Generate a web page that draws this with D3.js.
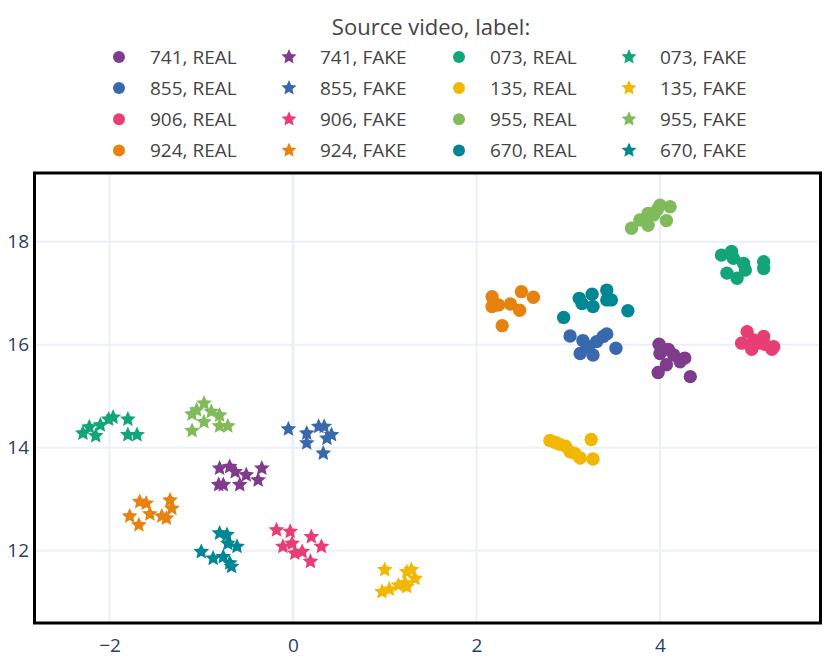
<!DOCTYPE html>
<html lang="en">
<head>
    <meta charset="UTF-8">
    <script src="https://d3js.org/d3.v7.min.js"></script>
    <title>Source video embedding</title>
    <style>
    body { margin: 0; background: #fff; }
    text { font-family: "Open Sans", sans-serif; }
    </style>
</head>
<body>
    <svg id="plot" width="830" height="661"></svg>
    <script>
        // Trace order (also legend order, filled row by row)
        const videos = ['741', '073', '855', '135', '906', '955', '924', '670'];
        const colors = ['#7F3C8D', '#11A579', '#3969AC', '#F2B701', '#E73F74', '#80BA5A', '#E68310', '#008695'];
        const labels = ['REAL', 'FAKE'];
        const xTicks = [-2, 0, 2, 4];
        const yTicks = [12, 14, 16, 18];

        // [x, y] points
        const real741 = [[3.99,16.01],[4.09,15.91],[4.15,15.80],[4.27,15.74],[4.22,15.67],[4.07,15.61],[3.98,15.46],[4.33,15.38],[4.00,15.83]];
        const fake741 = [[-0.80,13.60],[-0.69,13.63],[-0.63,13.53],[-0.51,13.47],[-0.34,13.60],[-0.81,13.28],[-0.76,13.28],[-0.58,13.28],[-0.38,13.37]];
        const real073 = [[4.67,17.74],[4.78,17.81],[4.80,17.68],[4.91,17.58],[4.93,17.45],[4.73,17.39],[4.84,17.29],[5.13,17.61],[5.13,17.48]];
        const fake073 = [[-2.29,14.28],[-2.22,14.40],[-2.15,14.23],[-2.10,14.44],[-2.01,14.55],[-1.96,14.59],[-1.80,14.55],[-1.80,14.25],[-1.70,14.25]];
        const real855 = [[3.02,16.17],[3.16,16.08],[3.13,15.83],[3.27,15.80],[3.22,15.96],[3.31,16.06],[3.38,16.16],[3.42,16.21],[3.52,15.93]];
        const fake855 = [[-0.05,14.36],[0.15,14.28],[0.15,14.09],[0.28,14.41],[0.34,14.41],[0.37,14.18],[0.42,14.25],[0.33,13.89]];
        const real135 = [[2.80,14.14],[2.86,14.10],[2.90,14.07],[2.97,14.03],[3.02,13.92],[3.07,13.89],[3.13,13.80],[3.25,14.16],[3.27,13.78]];
        const fake135 = [[1.00,11.63],[0.97,11.20],[1.05,11.25],[1.15,11.33],[1.22,11.37],[1.24,11.59],[1.29,11.63],[1.33,11.46],[1.24,11.30]];
        const real906 = [[4.95,16.25],[4.89,16.03],[5.00,15.91],[5.02,16.09],[5.13,16.16],[5.14,16.01],[5.22,15.91],[5.24,15.96],[5.07,16.03]];
        const fake906 = [[-0.18,12.40],[-0.03,12.37],[-0.01,12.14],[-0.11,12.08],[0.02,11.95],[0.10,11.98],[0.20,12.27],[0.31,12.08],[0.19,11.79]];
        const real955 = [[3.69,18.26],[3.78,18.42],[3.87,18.32],[3.87,18.55],[4.00,18.71],[4.11,18.68],[4.07,18.41],[3.93,18.52],[3.97,18.62]];
        const fake955 = [[-1.10,14.65],[-1.05,14.73],[-0.97,14.86],[-0.97,14.50],[-0.89,14.70],[-0.80,14.63],[-1.10,14.33],[-0.80,14.42],[-0.71,14.42]];
        const real924 = [[2.17,16.93],[2.17,16.74],[2.24,16.77],[2.37,16.79],[2.49,17.03],[2.62,16.92],[2.47,16.67],[2.28,16.37]];
        const fake924 = [[-1.67,12.95],[-1.60,12.92],[-1.34,12.98],[-1.32,12.82],[-1.78,12.67],[-1.56,12.71],[-1.43,12.67],[-1.38,12.63],[-1.68,12.50]];
        const real670 = [[2.95,16.53],[3.12,16.90],[3.15,16.80],[3.26,16.98],[3.27,16.74],[3.42,17.06],[3.42,16.87],[3.47,16.87],[3.65,16.66]];
        const fake670 = [[-0.80,12.34],[-0.72,12.31],[-0.71,12.14],[-0.61,12.08],[-1.00,11.98],[-0.87,11.85],[-0.76,11.88],[-0.69,11.76],[-0.67,11.69]];

        const pointsByVideo = {
            '741': [real741, fake741], '073': [real073, fake073],
            '855': [real855, fake855], '135': [real135, fake135],
            '906': [real906, fake906], '955': [real955, fake955],
            '924': [real924, fake924], '670': [real670, fake670]
        };

        // build the trace list: REAL then FAKE for every video
        const traces = [];
        videos.forEach((v, i) => {
            labels.forEach((lab, j) => {
                traces.push({name: `${v}, ${lab}`, color: colors[i], label: lab, points: pointsByVideo[v][j]});
            });
        });

        const svg = d3.select('svg#plot');
        const plot = {left: 35, right: 820, top: 173, bottom: 623};

        const xScale = d3.scaleLinear().domain([-2.812, 5.744]).range([plot.left, plot.right]);
        const yScale = d3.scaleLinear().domain([10.596, 19.334]).range([plot.bottom, plot.top]);

        // fatter star than d3's default (size = outer radius here)
        const fatStar = {
            draw(ctx, r) {
                const ri = r * 0.47;
                for (let k = 0; k < 10; k++) {
                    const rad = k % 2 === 0 ? r : ri;
                    const a = -Math.PI / 2 + k * Math.PI / 5;
                    const px = rad * Math.cos(a), py = rad * Math.sin(a);
                    if (k === 0) ctx.moveTo(px, py); else ctx.lineTo(px, py);
                }
                ctx.closePath();
            }
        };

        const circleSym = d3.symbol().type(d3.symbolCircle).size(Math.PI * 6.7 * 6.7);
        const starSym = d3.symbol().type(fatStar).size(8.3);
        const symFor = lab => lab === 'REAL' ? circleSym() : starSym();

        // gridlines
        const grid = svg.append('g');
        grid.selectAll('line.gx')
            .data(xTicks)
            .enter().append('line')
            .attr('x1', d => xScale(d)).attr('x2', d => xScale(d))
            .attr('y1', plot.top).attr('y2', plot.bottom)
            .attr('stroke', '#EBF0F8')
            .attr('stroke-width', d => d === 0 ? 3 : 2);
        grid.selectAll('line.gy')
            .data(yTicks)
            .enter().append('line')
            .attr('x1', plot.left).attr('x2', plot.right)
            .attr('y1', d => yScale(d)).attr('y2', d => yScale(d))
            .attr('stroke', '#EBF0F8')
            .attr('stroke-width', 2);

        // axes (labels only, no tick marks)
        const bottomAxis = d3.axisBottom(xScale).tickValues(xTicks).tickSize(0).tickPadding(16);
        const xg = svg.append('g')
            .attr('transform', `translate(0,${plot.bottom})`)
            .call(bottomAxis);
        const leftAxis = d3.axisLeft(yScale).tickValues(yTicks).tickSize(0).tickPadding(6);
        const yg = svg.append('g')
            .attr('transform', `translate(${plot.left},0)`)
            .call(leftAxis);
        [xg, yg].forEach(g => {
            g.select('.domain').remove();
            g.selectAll('text')
                .style('font-family', '"Open Sans", sans-serif')
                .style('font-size', '19px')
                .attr('fill', '#2a3f5f');
        });

        // points
        traces.forEach(t => {
            svg.append('g').selectAll('path')
                .data(t.points)
                .enter().append('path')
                .attr('d', symFor(t.label))
                .attr('transform', d => `translate(${xScale(d[0])},${yScale(d[1])})`)
                .attr('fill', t.color);
        });

        // frame
        svg.append('rect')
            .attr('x', plot.left - 0.5).attr('y', plot.top)
            .attr('width', plot.right - plot.left + 1)
            .attr('height', plot.bottom - plot.top)
            .attr('fill', 'none')
            .attr('stroke', '#000')
            .attr('stroke-width', 3);

        // legend
        const legend = svg.append('g');
        legend.append('text')
            .attr('x', 431).attr('y', 35)
            .attr('text-anchor', 'middle')
            .style('font-size', '22px')
            .attr('fill', '#444')
            .text('Source video, label:');

        const colX = [150, 320, 490, 660];
        const rowY = [57, 88, 119.2, 150.4];
        traces.forEach((t, i) => {
            const cx = colX[i % 4], cy = rowY[Math.floor(i / 4)];
            const item = legend.append('g').attr('transform', `translate(${cx},${cy})`);
            item.append('path')
                .attr('d', t.label === 'REAL'
                    ? d3.symbol().type(d3.symbolCircle).size(Math.PI * 36)()
                    : d3.symbol().type(fatStar).size(7.9)())
                .attr('transform', 'translate(-31,0)')
                .attr('fill', t.color);
            item.append('text')
                .attr('x', 0).attr('y', 7)
                .style('font-size', '19px')
                .attr('fill', '#444')
                .text(t.name);
        });
    </script>
</body>
</html>
